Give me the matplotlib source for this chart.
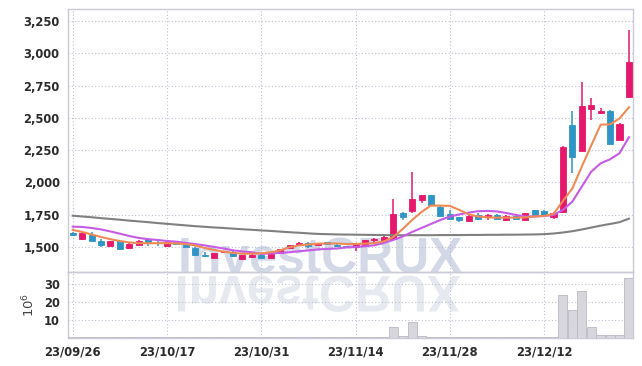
import matplotlib
matplotlib.use('Agg')
import matplotlib.pyplot as plt
import numpy as np
from matplotlib.textpath import TextPath
from matplotlib.patches import PathPatch
from matplotlib.font_manager import FontProperties, fontManager
import matplotlib.transforms as mtransforms

# daily OHLC, 60 trading days
opens = [1611, 1560, 1595, 1549, 1510, 1544, 1492, 1518, 1562, 1530,
         1510, 1539, 1518, 1490, 1432, 1417, 1460, 1464, 1410, 1425,
         1438, 1417, 1451, 1495, 1518, 1533, 1515, 1539, 1518, 1508,
         1502, 1513, 1555, 1544, 1560, 1766, 1779, 1864, 1900, 1812,
         1755, 1730, 1704, 1748, 1735, 1750, 1705, 1740, 1710, 1784,
         1779, 1735, 1769, 2445, 2246, 2571, 2537, 2556, 2331, 2660]
highs = [1618, 1612, 1616, 1565, 1548, 1548, 1530, 1553, 1566, 1545,
         1542, 1542, 1522, 1503, 1460, 1455, 1472, 1468, 1440, 1445,
         1442, 1452, 1485, 1518, 1541, 1536, 1533, 1542, 1520, 1510,
         1524, 1556, 1572, 1581, 1869, 1770, 2078, 1905, 1904, 1815,
         1785, 1733, 1744, 1760, 1753, 1754, 1744, 1744, 1764, 1788,
         1783, 1770, 2285, 2553, 2778, 2654, 2577, 2560, 2457, 3181]
lows = [1585, 1555, 1545, 1502, 1505, 1478, 1488, 1514, 1510, 1505,
        1506, 1522, 1498, 1430, 1426, 1413, 1455, 1420, 1405, 1415,
        1413, 1413, 1448, 1493, 1516, 1490, 1512, 1520, 1502, 1495,
        1470, 1510, 1532, 1540, 1556, 1709, 1761, 1839, 1820, 1735,
        1716, 1690, 1700, 1712, 1710, 1710, 1700, 1716, 1705, 1745,
        1740, 1720, 1760, 2071, 2240, 2484, 2533, 2295, 2327, 2655]
closes = [1591, 1608, 1549, 1518, 1544, 1487, 1526, 1549, 1541, 1527,
          1539, 1526, 1502, 1438, 1428, 1451, 1466, 1430, 1436, 1440,
          1417, 1448, 1482, 1515, 1533, 1508, 1529, 1523, 1505, 1503,
          1521, 1552, 1562, 1577, 1753, 1735, 1872, 1900, 1825, 1740,
          1720, 1707, 1740, 1720, 1750, 1715, 1740, 1720, 1760, 1750,
          1748, 1766, 2275, 2199, 2592, 2600, 2555, 2300, 2453, 2933]

# volume in millions
volumes = [0.3, 0.3, 0.3, 0.3, 0.2, 0.3, 0.2, 0.2, 0.2, 0.2,
           0.2, 0.2, 0.2, 0.3, 0.2, 0.2, 0.2, 0.2, 0.2, 0.2,
           0.2, 0.2, 0.3, 0.3, 0.2, 0.2, 0.2, 0.2, 0.2, 0.2,
           0.2, 0.3, 0.2, 0.3, 5.8, 1.0, 8.5, 0.8, 0.5, 0.5,
           0.3, 0.3, 0.2, 0.2, 0.2, 0.2, 0.2, 0.2, 0.3, 0.3,
           0.3, 0.4, 23.5, 15.2, 26.1, 5.8, 1.3, 1.3, 1.3, 33.0]

# moving averages
ma_short = [1632, 1616, 1597, 1577, 1560, 1546, 1535, 1529, 1529, 1529,
            1529, 1527, 1523, 1512, 1492, 1477, 1464, 1454, 1448, 1448,
            1451, 1459, 1473, 1498, 1512, 1519, 1526, 1527, 1527, 1523,
            1523, 1526, 1529, 1543, 1577, 1639, 1709, 1771, 1821, 1820,
            1818, 1787, 1753, 1736, 1729, 1727, 1727, 1727, 1729, 1736,
            1740, 1756, 1856, 1953, 2122, 2286, 2447, 2450, 2495, 2582]
ma_mid = [1657, 1655, 1647, 1636, 1620, 1603, 1585, 1570, 1560, 1554,
          1546, 1541, 1531, 1522, 1512, 1500, 1488, 1474, 1465, 1459,
          1446, 1450, 1454, 1459, 1467, 1473, 1481, 1485, 1488, 1496,
          1500, 1505, 1513, 1531, 1554, 1581, 1616, 1647, 1678, 1709,
          1735, 1752, 1766, 1777, 1779, 1775, 1763, 1748, 1736, 1736,
          1740, 1748, 1787, 1851, 1967, 2083, 2148, 2179, 2226, 2350]
ma_long = [1742, 1736, 1730, 1723, 1717, 1711, 1704, 1698, 1692, 1685,
           1679, 1673, 1667, 1661, 1656, 1651, 1647, 1642, 1637, 1633,
           1628, 1624, 1619, 1614, 1610, 1605, 1601, 1599, 1597, 1596,
           1595, 1594, 1593, 1592, 1591, 1591, 1591, 1591, 1591, 1592,
           1592, 1592, 1593, 1593, 1594, 1594, 1595, 1595, 1596, 1597,
           1599, 1604, 1612, 1622, 1635, 1650, 1665, 1678, 1692, 1719]

tick_pos = [0, 10, 20, 30, 40, 50]
tick_labels = ['23/09/26', '23/10/17', '23/10/31', '23/11/14', '23/11/28', '23/12/12']
price_ticks = [1500, 1750, 2000, 2250, 2500, 2750, 3000, 3250]
vol_ticks = [10, 20, 30]

# look for a condensed face, otherwise shrink Liberation Sans a bit
cond = None
for f in fontManager.ttflist:
    nm = f.name.lower()
    if ('narrow' in nm or 'condensed' in nm or f.stretch in ('condensed', 'semi-condensed')) \
            and f.weight in ('bold', 700, 'semibold', 600):
        cond = f
        break
if cond is not None:
    lab_prop = FontProperties(fname=cond.fname)
    lab_size = 9.3
else:
    lab_prop = FontProperties(family='Liberation Sans', weight='bold')
    lab_size = 8.6

UP = '#e5186b'
DOWN = '#2f95c6'
GRID = '#bcc0d0'
SPINE = '#c9cbd6'
TXT = '#2b2b2b'

fig = plt.figure(figsize=(6.42, 3.66), dpi=100)
fig.patch.set_facecolor('white')
ax = fig.add_axes([68/642, 1-272/366, (632.7-68)/642, (272-9)/366])
axv = fig.add_axes([68/642, 1-337.5/366, (632.7-68)/642, (337.5-272)/366], sharex=ax)
for a in (ax, axv):
    a.set_facecolor('none')
    for s in a.spines.values():
        s.set_color(SPINE)
        s.set_linewidth(1.0)
    a.grid(True, color=GRID, linestyle=(0, (1, 2)), linewidth=0.8)
    a.set_axisbelow(True)
    a.tick_params(length=0, colors=TXT, pad=6)

x = np.arange(len(opens))
o = np.array(opens); c = np.array(closes)
h = np.array(highs); l = np.array(lows)
cols = np.where(c >= o, UP, DOWN)

ax.vlines(x, l, h, colors=cols, linewidth=1.1, zorder=3)
body_lo = np.minimum(o, c)
body_h = np.maximum(np.abs(c - o), 6)
ax.bar(x, body_h, bottom=body_lo, width=0.64, color=cols, edgecolor=cols,
       linewidth=0.6, zorder=4)

ax.plot(x, ma_long, color='#808080', linewidth=1.5, zorder=5)
ax.plot(x, ma_mid, color='#c65be6', linewidth=1.5, zorder=5)
ax.plot(x, ma_short, color='#ef8a57', linewidth=1.5, zorder=5)

ax.set_ylim(1306, 3343)
ax.set_yticks(price_ticks)
ax.set_yticklabels([f'{v:,}' for v in price_ticks])
ax.set_xlim(-0.5, 59.4)
ax.set_xticks(tick_pos)
plt.setp(ax.get_xticklabels(), visible=False)

axv.bar(x, volumes, width=0.95, color='#d6d6dc', edgecolor='#b9b9c2',
        linewidth=0.6, zorder=3)
axv.set_ylim(0, 36.5)
axv.set_yticks(vol_ticks)
axv.set_xticks(tick_pos)
axv.set_xticklabels(tick_labels)
axv.set_ylabel(r'$10^6$', color='#444444', fontsize=9.5, labelpad=5)

for lab in ax.get_yticklabels() + axv.get_yticklabels() + axv.get_xticklabels():
    lab.set_fontproperties(lab_prop)
    lab.set_fontsize(lab_size)

# watermark and its reflection, fitted to ~282 px wide
wm_prop = FontProperties(family='Liberation Sans', weight='bold')
tp = TextPath((0, 0), 'InvestCRUX', size=100, prop=wm_prop)
ext = tp.get_extents()
wm_size = 100 * 282 / (ext.width * 100/72)
fig.text(178/642, 1-273/366, 'InvestCRUX', fontproperties=wm_prop,
         color='#d2d8e6', zorder=-1, ha='left', va='baseline')
fig.texts[-1].set_fontsize(wm_size)
sx = 282 / ext.width
sy = 36 / (ext.y1 - 0)
tr = (mtransforms.Affine2D().translate(-ext.x0, 0).scale(sx, -sy)
      .translate(178, 366 - 276))
patch = PathPatch(tp, transform=tr, facecolor='#e7e9f0', edgecolor='none', zorder=-1)
fig.patches.append(patch)
patch.set_figure(fig)

fig.savefig('out.png', dpi=100, facecolor='white')
